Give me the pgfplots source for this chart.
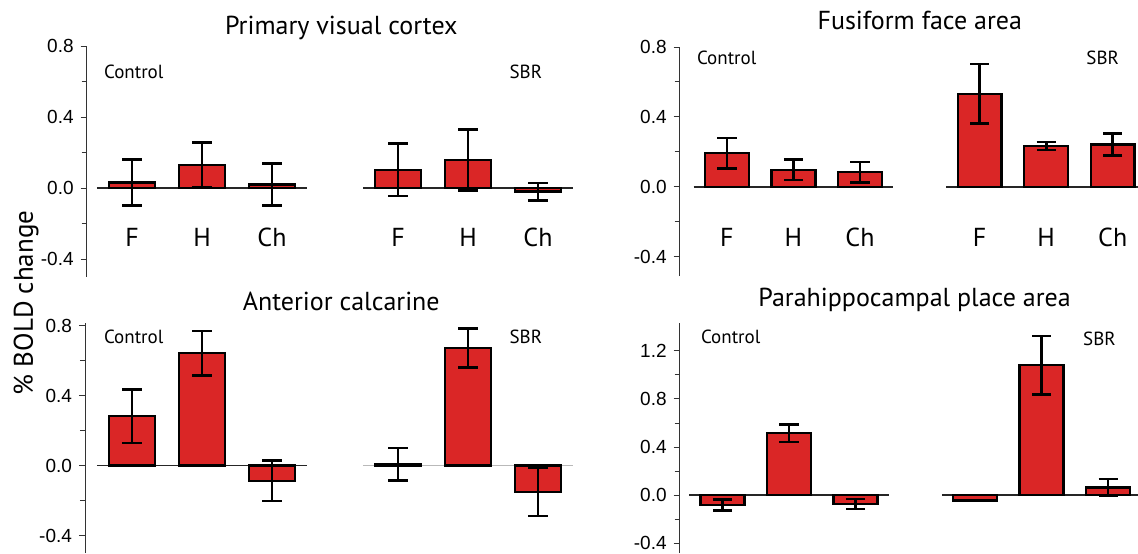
\documentclass[border=0pt]{standalone}
\usepackage{fontspec}
\setmainfont{PT Sans}
\newfontfamily\tickfont{Liberation Sans}
\usepackage{pgfplots}
\pgfplotsset{compat=1.18}
\definecolor{barred}{RGB}{218,38,38}
\newcommand\lab{\fontsize{13}{15}\selectfont}
\newcommand\grp{\fontsize{9.5}{11}\selectfont}

\pgfplotsset{
  panel/.style={
    scale only axis, clip=false, anchor=south west,
    axis x line=none, axis y line=left,
    axis line style={-, line width=0.5pt, black!80},
    tick align=outside, major tick length=3pt, minor tick length=2.5pt,
    minor y tick num=1,
    every tick/.style={black!80, line width=0.5pt},
    yticklabel style={font=\tickfont\fontsize{9.5}{10}\selectfont},
  },
  bars/.style={ybar, bar width=0.66, bar shift=0pt, fill=barred, draw=black,
    line width=1.2pt,
    error bars/.cd, y dir=both, y explicit,
    error bar style={line width=1.3pt, black},
    error mark options={rotate=90, mark size=4.8pt, line width=1.3pt, black}},
  base/.style={black!85, line width=0.7pt, forget plot},
}

\begin{document}
\begin{tikzpicture}
\useasboundingbox (0,0) rectangle (569pt,276.5pt);

% Primary visual cortex
\begin{axis}[panel, at={(43.35pt,138.1pt)}, width=243.15pt, height=115.4pt,
  xmin=-0.647, xmax=6.3, ymin=-0.5, ymax=0.8,
  ytick={-0.4,0,0.4,0.8}, yticklabels={-0.4,0.0,0.4,0.8}]
\addplot[base] coordinates {(-0.5,0) (2.5,0)};
\addplot[base] coordinates {(3.3,0) (6.3,0)};
\addplot[bars] coordinates {(0,0.031) +- (0,0.129) (1,0.13) +- (0,0.127) (2,0.02) +- (0,0.118)};
\addplot[bars] coordinates {(3.8,0.103) +- (0,0.148) (4.8,0.159) +- (0,0.172) (5.8,-0.02) +- (0,0.049)};
\node[font=\lab] at (axis cs:2.99,0.90) {Primary visual cortex};
\node[font=\grp, anchor=west] at (axis cs:-0.5,0.654) {Control};
\node[font=\grp, anchor=east] at (axis cs:5.96,0.654) {SBR};
\node[font=\lab] at (axis cs:0,-0.276) {F};
\node[font=\lab] at (axis cs:1,-0.276) {H};
\node[font=\lab] at (axis cs:2,-0.276) {Ch};
\node[font=\lab] at (axis cs:3.8,-0.276) {F};
\node[font=\lab] at (axis cs:4.8,-0.276) {H};
\node[font=\lab] at (axis cs:5.8,-0.276) {Ch};
\end{axis}

% Fusiform face area
\begin{axis}[panel, at={(339.85pt,138.4pt)}, width=229.15pt, height=114.6pt,
  xmin=-0.71, xmax=6.18, ymin=-0.51, ymax=0.8,
  ytick={-0.4,0,0.4,0.8}, yticklabels={-0.4,0.0,0.4,0.8}]
\addplot[base] coordinates {(-0.5,0) (2.5,0)};
\addplot[base] coordinates {(3.3,0) (6.18,0)};
\addplot[bars] coordinates {(0,0.194) +- (0,0.087) (1,0.098) +- (0,0.058) (2,0.085) +- (0,0.058)};
\addplot[bars] coordinates {(3.8,0.532) +- (0,0.17) (4.8,0.234) +- (0,0.022) (5.8,0.242) +- (0,0.063)};
\node[font=\lab] at (axis cs:2.90,0.954) {Fusiform face area};
\node[font=\grp, anchor=west] at (axis cs:-0.556,0.737) {Control};
\node[font=\grp, anchor=east] at (axis cs:6.0,0.737) {SBR};
\node[font=\lab] at (axis cs:0,-0.29) {F};
\node[font=\lab] at (axis cs:1,-0.29) {H};
\node[font=\lab] at (axis cs:2,-0.29) {Ch};
\node[font=\lab] at (axis cs:3.8,-0.29) {F};
\node[font=\lab] at (axis cs:4.8,-0.29) {H};
\node[font=\lab] at (axis cs:5.8,-0.29) {Ch};
\end{axis}

% Anterior calcarine
\begin{axis}[panel, at={(42.5pt,0pt)}, width=244pt, height=115pt,
  xmin=-0.671, xmax=6.3, ymin=-0.5, ymax=0.817,
  ytick={-0.4,0,0.4,0.8}, yticklabels={-0.4,0.0,0.4,0.8}]
\addplot[base] coordinates {(-0.5,0) (2.5,0)};
\addplot[base, draw=gray!55] coordinates {(3.3,0) (6.3,0)};
\addplot[bars] coordinates {(0,0.283) +- (0,0.153) (1,0.645) +- (0,0.127) (2,-0.087) +- (0,0.116)};
\addplot[bars] coordinates {(3.8,0.008) +- (0,0.094) (4.8,0.674) +- (0,0.11) (5.8,-0.149) +- (0,0.14)};
\node[font=\lab] at (axis cs:2.99,0.943) {Anterior calcarine};
\node[font=\grp, anchor=west] at (axis cs:-0.5,0.737) {Control};
\node[font=\grp, anchor=east] at (axis cs:5.96,0.737) {SBR};
\end{axis}

% Parahippocampal place area
\begin{axis}[panel, at={(339.85pt,0pt)}, width=229.15pt, height=115pt,
  xmin=-0.644, xmax=6.25, ymin=-0.483, ymax=1.433,
  ytick={-0.4,0,0.4,0.8,1.2}, yticklabels={-0.4,0.0,0.4,0.8,1.2}]
\addplot[base] coordinates {(-0.5,0) (2.5,0)};
\addplot[base] coordinates {(3.3,0) (6.25,0)};
\addplot[bars] coordinates {(0,-0.083) +- (0,0.048) (1,0.516) +- (0,0.073) (2,-0.074) +- (0,0.041)};
\addplot[bars] coordinates {(3.8,-0.047) +- (0,0) (4.8,1.081) +- (0,0.244) (5.8,0.063) +- (0,0.07)};
\node[font=\lab] at (axis cs:2.89,1.625) {Parahippocampal place area};
\node[font=\grp, anchor=west] at (axis cs:-0.43,1.317) {Control};
\node[font=\grp, anchor=east] at (axis cs:6.02,1.30) {SBR};
\end{axis}

\node[rotate=90, font=\fontsize{13.5}{15}\selectfont] at (13pt,125pt) {\% BOLD change};
\end{tikzpicture}
\end{document}
